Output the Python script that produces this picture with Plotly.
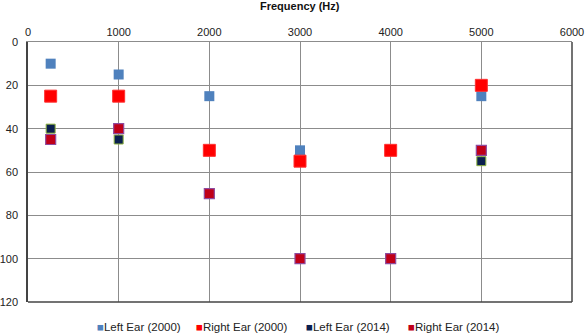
import plotly.graph_objects as go

freq = [250, 1000, 2000, 3000, 4000, 5000]
left_2000 = [10, 15, 25, 50, 50, 25]
right_2000 = [25, 25, 50, 55, 50, 20]
left_2014 = [40, 45, 70, 100, 100, 55]
right_2014 = [45, 40, 70, 100, 100, 50]

series = [
    ("Left Ear (2000)", left_2000, "#4F81BD", "#4F81BD", 10, 0),
    ("Right Ear (2000)", right_2000, "#FF0000", "#FF3030", 12, 1),
    ("Left Ear (2014)", left_2014, "#0A1F4F", "#8DB33F", 9, 1),
    ("Right Ear (2014)", right_2014, "#C00018", "#8E4A9E", 10, 1.2),
]
legend_x = [95, 194, 304, 406]

fig = go.Figure()
for name, vals, fill, line, size, lw in series:
    fig.add_trace(go.Scatter(
        x=freq, y=vals, mode="markers", name=name, showlegend=False,
        marker=dict(symbol="square", size=size, color=fill,
                    line=dict(color=line, width=lw)),
    ))

annotations = [
    dict(text="<b>Frequency (Hz)</b>", xref="paper", yref="paper",
         x=0.5, y=1, yshift=36, xanchor="center", yanchor="middle",
         showarrow=False, font=dict(size=11, color="#111")),
]
W, L, R = 586, 28, 14
pw = W - L - R
for (name, vals, fill, line, size, lw), px in zip(series, legend_x):
    annotations.append(dict(
        text=f'<span style="color:{fill}">■</span>{name}',
        xref="paper", yref="paper", x=(px - L) / pw, y=0, yshift=-25,
        xanchor="left", yanchor="middle", showarrow=False,
        font=dict(size=11.5, color="#222")))

fig.update_layout(
    width=586, height=336,
    margin=dict(l=L, r=R, t=42, b=34, autoexpand=False),
    paper_bgcolor="white", plot_bgcolor="white",
    font=dict(family="Liberation Sans, Arial", size=11, color="#222"),
    showlegend=False,
    xaxis=dict(range=[0, 6000], side="top", dtick=1000, tick0=0,
               showgrid=True, gridcolor="#8c8c8c", gridwidth=1,
               showline=True, linecolor="#8c8c8c", mirror=False,
               ticks="", zeroline=False, automargin=False,
               ticklabelstandoff=1,
               tickfont=dict(size=11, color="#222")),
    yaxis=dict(range=[120, 0], dtick=20, tick0=0,
               showgrid=True, gridcolor="#8c8c8c", gridwidth=1,
               showline=True, linecolor="#444", linewidth=1.5, mirror=False,
               ticks="", zeroline=False, automargin=False,
               ticklabelstandoff=6,
               tickfont=dict(size=11, color="#222")),
    shapes=[
        dict(type="line", xref="paper", yref="paper", x0=0, x1=1, y0=0, y1=0,
             line=dict(color="#444", width=1.5)),
        dict(type="line", xref="paper", yref="paper", x0=1, x1=1, y0=0, y1=1,
             line=dict(color="#444", width=1.5)),
    ],
    annotations=annotations,
)

fig.write_html("out.html", config={"displayModeBar": False},
               post_script="document.body.style.margin='0px';document.body.style.overflow='hidden';")
